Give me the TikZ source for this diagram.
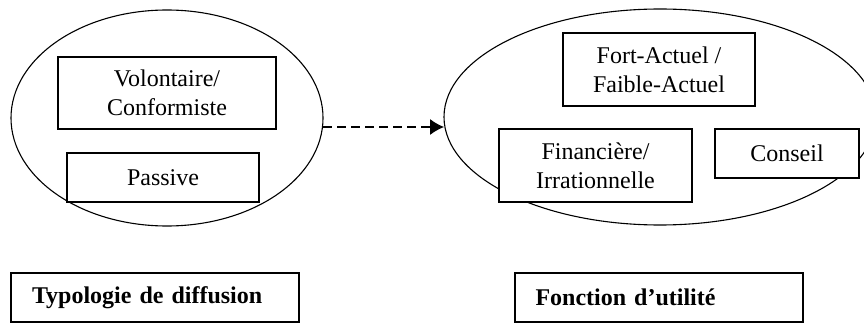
\documentclass[tikz,border=0pt]{standalone}
\usepackage{fontspec}
\setmainfont{Liberation Serif}
\usetikzlibrary{shapes.geometric,arrows.meta}

\begin{document}
\begin{tikzpicture}[x=1pt,y=-1pt,
    blob/.style={draw,ellipse,inner sep=0pt,outer sep=0pt,line width=1.1pt},
    item/.style={draw,fill=white,align=center,inner sep=0pt,line width=1.3pt,
      font=\fontsize{24}{29}\selectfont},
    caption/.style={draw,line width=2pt,align=left,inner xsep=21pt,
      minimum width=288pt,minimum height=49pt,text width=246pt,
      font=\fontsize{24}{29}\selectfont\bfseries},
    flow/.style={-{Latex[length=14pt,width=16pt]},dash pattern=on 9pt off 5pt,line width=1.1pt}]
  \useasboundingbox (0,0) rectangle (864,323);
  \clip (0,0) rectangle (864,323);
  % the two sets
  \node[blob,minimum width=312pt,minimum height=216pt] (diffu) at (167,118) {};
  \node[blob,minimum width=432pt,minimum height=216pt] (utile) at (660,117) {};
  \node[item,minimum width=218pt,minimum height=72pt] (volon) at (167,93) {Volontaire/\\Conformiste};
  \node[item,minimum width=192pt,minimum height=49pt] (passi) at (163,177.5) {Passive};
  \node[item,minimum width=192pt,minimum height=73pt] (fort) at (659,69.5) {Fort-Actuel /\\Faible-Actuel};
  \node[item,minimum width=193pt,minimum height=73pt] (finan) at (595.5,165.5) {Financière/\\Irrationnelle};
  \node[item,minimum width=144pt,minimum height=49pt] (conse) at (787,153.5) {Conseil};
  \draw[flow] ([yshift=-9pt]diffu.east) -- ([yshift=-10pt]utile.west);
  % titles
  \node[caption] (typo) at (155,297.5) {Typologie de diffusion};
  \node[caption] (fonct) at (658.5,297.5) {Fonction d’utilité};
\end{tikzpicture}
\end{document}
